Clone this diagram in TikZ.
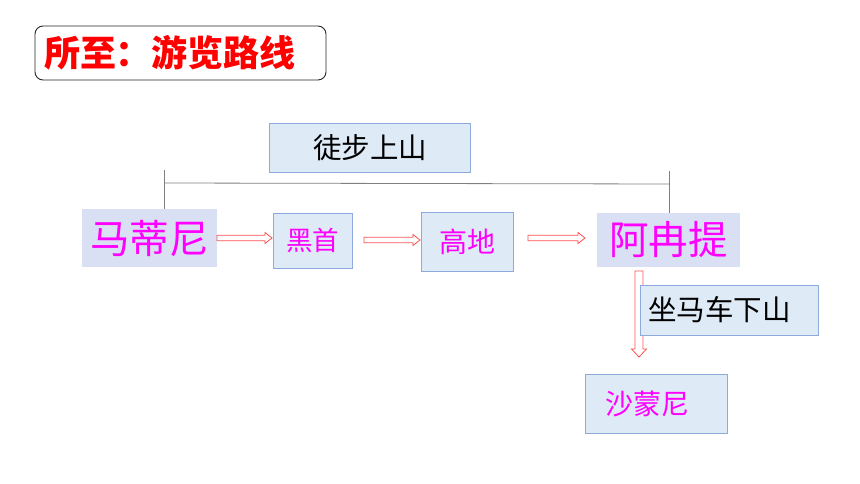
\documentclass[tikz,border=0pt]{standalone}
\usepackage{fontspec}
\setmainfont{Noto Sans CJK SC}
\newfontfamily\cjk{Noto Sans CJK SC}
\usetikzlibrary{calc}
\definecolor{boxfill}{HTML}{DEEAF6}
\definecolor{boxline}{HTML}{8EA9DB}
\definecolor{lavfill}{HTML}{D9E0F3}
\definecolor{arrowred}{HTML}{FF5050}
\definecolor{mag}{HTML}{FF00FF}
\definecolor{linegray}{HTML}{808080}
\tikzset{
  bluebox/.style={draw=boxline, fill=boxfill, line width=0.9pt, inner sep=0pt},
  lavbox/.style={fill=lavfill, inner sep=0pt},
  big/.style={font=\cjk\fontsize{39.5}{42}\selectfont, text=mag},
  mid/.style={font=\cjk\fontsize{28}{30}\selectfont, text=mag},
  blk/.style={font=\cjk\fontsize{28.5}{30}\selectfont, text=black},
  hollow/.style n args={3}{draw=arrowred, fill=white, line width=0.8pt, to path={
    ($(\tikztotarget)!#3!(\tikztostart)$) coordinate (hh)
    ($(\tikztostart)!#1!90:(\tikztotarget)$) -- ($(hh)!#1!90:(\tikztotarget)$)
    -- ($(hh)!#2!90:(\tikztotarget)$) -- (\tikztotarget)
    -- ($(hh)!#2!-90:(\tikztotarget)$) -- ($(hh)!#1!-90:(\tikztotarget)$)
    -- ($(\tikztostart)!#1!-90:(\tikztotarget)$) -- cycle}},
}
\begin{document}
\begin{tikzpicture}[x=1pt,y=-1pt]
\useasboundingbox (0,0) rectangle (860,484);
% title
\node[draw=black!85, line width=0.9pt, rounded corners=8pt, minimum width=289pt, minimum height=54pt,
      text width=273pt, align=left, inner xsep=9pt,
      font=\cjk\bfseries\fontsize{36}{38}\selectfont, text=red] (title) at (180.5,53) {所至：游览路线};
% top label
\node[bluebox, minimum width=201pt, minimum height=49pt, blk] (walk) at (370,147.5) {徒步上山};
% main nodes
\node[lavbox, minimum width=135pt, minimum height=58pt, big] (mdn) at (149.5,238) {马蒂尼};
\node[bluebox, minimum width=79pt, minimum height=55pt, mid, font=\cjk\fontsize{26.5}{28}\selectfont] (hs) at (312.5,240.5) {黑首};
\node[bluebox, minimum width=92pt, minimum height=59pt, mid] (gd) at (467,241.5) {高地};
\node[lavbox, minimum width=143pt, minimum height=54pt, big] (aep) at (668.5,240) {阿冉提};
% bracket line
\coordinate (tl) at (164,170);
\coordinate (tr) at (669,171);
\coordinate (hl) at (164,183);
\coordinate (hr) at (669,184);
\draw[linegray, line width=0.8pt] (tl) -- (tl |- mdn.north);
\draw[linegray, line width=0.8pt] (tr) -- (tr |- aep.north);
\draw[linegray, line width=0.8pt] (hl) -- (hr);
% horizontal arrows
\coordinate (a1s) at (217,238);
\coordinate (a1e) at (272,238);
\coordinate (a2s) at (364,240);
\coordinate (a2e) at (420,240);
\coordinate (a3s) at (528,238);
\coordinate (a3e) at (585,238);
\draw[hollow={2.75pt}{5.5pt}{7pt}] (a1s) to (a1e);
\draw[hollow={2.75pt}{5.5pt}{7pt}] (a2s) to (a2e);
\draw[hollow={2.75pt}{5.5pt}{7pt}] (a3s) to (a3e);
% vertical arrow
\coordinate (vs) at (639,271);
\coordinate (ve) at (639,357);
\draw[hollow={4pt}{7.5pt}{8pt}] (vs) to (ve);
% side label
\node[bluebox, minimum width=178pt, minimum height=50pt, blk, text width=162pt, align=left, inner xsep=8pt] (cart) at (729,310) {坐马车下山};
% destination
\node[bluebox, minimum width=142pt, minimum height=59pt, mid, text width=102pt, align=left, inner xsep=20pt] (smn) at (656,403.5) {沙蒙尼};
\end{tikzpicture}
\end{document}
